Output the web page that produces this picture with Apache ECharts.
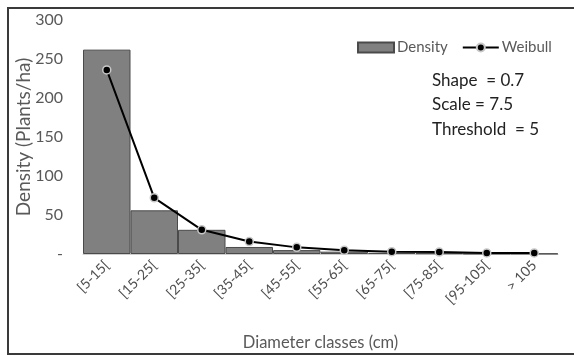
<!DOCTYPE html>
<html><head><meta charset="utf-8">
<script src="https://cdn.jsdelivr.net/npm/echarts@6/dist/echarts.min.js"></script>
<style>html,body{margin:0;padding:0;background:#fff}#c{width:574px;height:356px}</style>
</head><body><div id="c"></div>
<script>
var categories = ['[5-15[', '[15-25[', '[25-35[', '[35-45[', '[45-55[', '[55-65[', '[65-75[', '[75-85[', '[95-105[', '> 105'];
var density = [262, 56, 31, 9, 5, 3, 1.5, 1, 0.5, 0.5];
var weibull = [236, 72, 31, 16, 8.5, 4.7, 3, 2.5, 1.3, 1.3];
var yTicks = [0, 50, 100, 150, 200, 250, 300];
var paramsText = ['Shape  = 0.7', 'Scale = 7.5', 'Threshold  = 5'];

var FONT = 'Lato';
var chart = echarts.init(document.getElementById('c'));
chart.setOption({
  animation: false,
  textStyle: { fontFamily: FONT },
  grid: { left: 83, right: 16, top: 20, bottom: 100 },
  legend: {
    left: 352, top: 35, itemWidth: 36, itemHeight: 10, itemGap: 14,
    textStyle: { fontFamily: FONT, fontSize: 15, color: '#595959', padding: [0, 0, 0, -2] },
    data: [
      { name: 'Density', icon: 'rect' },
      { name: 'Weibull' }
    ]
  },
  graphic: [
    { type: 'rect', shape: { x: 8, y: 8, width: 600, height: 346 }, style: { fill: 'none', stroke: '#3a3a3a', lineWidth: 2 }, silent: true },
    { type: 'text', left: 432, top: 68, style: { text: paramsText.join('\n'), font: '17px Lato', fill: '#222', lineHeight: 24.5 } }
  ],
  xAxis: {
    type: 'category', data: categories,
    name: 'Diameter classes (cm)', nameLocation: 'middle', nameGap: 80,
    nameTextStyle: { fontFamily: FONT, fontSize: 16.5, color: '#595959' },
    axisLine: { lineStyle: { color: '#d0d0d0', width: 1 } },
    axisTick: { show: false },
    axisLabel: { rotate: 45, fontFamily: FONT, fontSize: 14, color: '#505050', margin: 9, interval: 0 }
  },
  yAxis: {
    type: 'value', min: 0, max: 300, interval: 50,
    name: 'Density (Plants/ha)', nameLocation: 'middle', nameGap: 50, nameMoveOverlap: false,
    nameTextStyle: { fontFamily: FONT, fontSize: 19, color: '#595959' },
    splitLine: { show: false }, axisLine: { show: false }, axisTick: { show: false },
    axisLabel: { fontFamily: FONT, fontSize: 16, color: '#595959', margin: 20,
      formatter: function (v) { return yTicks.indexOf(v) === 0 ? '-' : String(v); } }
  },
  series: [
    { name: 'Density', type: 'bar', data: density, barCategoryGap: '0%',
      itemStyle: { color: '#808080', borderColor: '#4a4a4a', borderWidth: 1 } },
    { name: 'Weibull', type: 'line', data: weibull, symbol: 'circle', symbolSize: 8,
      lineStyle: { color: '#000', width: 2 },
      itemStyle: { color: '#000', borderColor: '#c8c8c8', borderWidth: 1.5 } }
  ]
});
</script></body></html>
